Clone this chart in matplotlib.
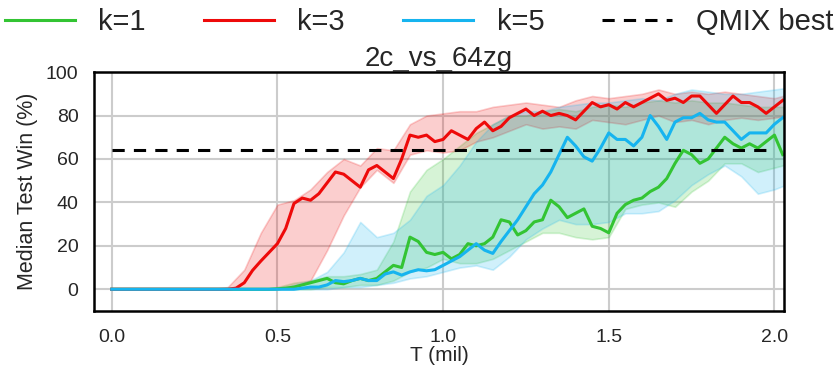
import numpy as np
import matplotlib
matplotlib.use('Agg')
import matplotlib.pyplot as plt

# median curves, sampled every 0.025 mil
t_med = np.arange(82) * 0.025
k1_med = [0] * 20 + [0.2, 0.5, 1, 2, 3, 4, 5, 3, 2.5, 4, 5, 4, 5, 8, 11, 10,
                     24, 22, 17, 16, 17, 14, 16, 21, 20, 21, 24, 32, 31, 25, 27, 31,
                     32, 41, 38, 33, 35, 37, 29, 28, 26, 35, 39, 41, 42, 45, 47, 51,
                     58, 64, 62, 58, 60, 65, 70, 67, 65, 67, 65, 68, 71, 62]
k3_med = [0] * 15 + [0.5, 3, 8.7, 13, 17, 21, 28, 39.5, 42, 41, 44, 49, 54, 53, 50,
                     47, 55, 57, 54, 51, 60, 71, 70, 71, 68, 69, 73, 71, 69, 74, 77,
                     73, 75, 79, 81, 83, 80, 82, 80, 81, 80, 78, 82, 86, 84, 85, 83,
                     86, 84, 86, 88, 90, 87, 88, 86, 89, 89, 85, 81, 85, 89, 86, 86,
                     84, 81, 84, 87]
k5_med = [0] * 23 + [0.5, 1, 1, 2, 4, 3.5, 4, 5, 4, 4, 7, 8, 6.5, 8, 9, 8.5, 9,
                     11, 13, 15, 18, 21, 18, 16.5, 22, 27, 32, 38, 44, 48, 54, 62, 70,
                     66, 61, 59, 65, 72, 69, 69, 66, 70, 80, 75, 69, 77, 79, 79, 81,
                     78, 77, 77, 73, 69, 72, 72, 72, 76, 79]

# spread bands, sampled every 0.05 mil
t_band = np.arange(42) * 0.05
k1_lo = [0] * 13 + [1, 1, 2, 2, 4, 8, 10, 14, 12, 12, 14, 18, 22, 26, 26, 24, 23,
                    24, 37, 39, 40, 38, 45, 50, 58, 58, 54, 56, 58]
k1_hi = [0] * 10 + [1, 3, 4, 6, 6, 7, 9, 22, 45, 55, 60, 66, 72, 76, 80, 80, 82,
                    83, 82, 84, 85, 84, 86, 87, 86, 87, 86, 86, 85, 84, 84, 84]
k3_lo = [0] * 11 + [1, 4, 18, 34, 47, 55, 49, 62, 64, 63, 64, 68, 70, 73, 76, 74,
                    75, 74, 78, 77, 76, 78, 80, 77, 78, 76, 78, 79, 78, 79, 80]
k3_hi = [0] * 7 + [1, 9, 26, 39, 41, 46, 54, 60, 57, 65, 64, 76, 80, 81, 82, 82,
                   84, 85, 86, 85, 84, 87, 89, 88, 89, 90, 92, 90, 91, 90, 91, 90,
                   89, 88, 90]
k5_lo = [0] * 14 + [1, 1, 2, 3, 5, 6, 8, 10, 11, 9, 15, 23, 28, 32, 30, 30, 31, 35,
                    35, 36, 41, 48, 53, 57, 52, 44, 46, 49]
k5_hi = [0] * 11 + [2, 4, 8, 17, 31, 24, 26, 32, 43, 48, 57, 68, 76, 80, 82, 82,
                    84, 85, 86, 86, 87, 88, 87, 90, 92, 91, 90, 90, 91, 92, 93]

qmix_best = 64

plt.rcParams['font.family'] = ['Liberation Sans', 'DejaVu Sans']
plt.rcParams['text.color'] = '#262626'
plt.rcParams['xtick.color'] = '#262626'
plt.rcParams['ytick.color'] = '#262626'
plt.rcParams['axes.labelcolor'] = '#262626'

fig, ax = plt.subplots(figsize=(8.38, 3.68), dpi=100)
fig.subplots_adjust(left=0.112, right=0.936, top=0.804, bottom=0.155)

series = [
    ('k=1', '#33c433', k1_med, k1_lo, k1_hi),
    ('k=3', '#ee0a0a', k3_med, k3_lo, k3_hi),
    ('k=5', '#16b4ef', k5_med, k5_lo, k5_hi),
]

for name, col, med, lo, hi in series:
    ax.fill_between(t_band, lo, hi, color=col, alpha=0.2, lw=1.2)
for name, col, med, lo, hi in series:
    ax.plot(t_med, med, color=col, lw=2.2, label=name)

ax.plot([0, 2.0], [qmix_best, qmix_best], color='black', ls='--', lw=2.2,
        dashes=(4, 3), label='QMIX best')

ax.set_xlim(-0.054, 2.03)
ax.set_ylim(-10, 100)
ax.set_xticks([0, 0.5, 1.0, 1.5, 2.0])
ax.set_yticks([0, 20, 40, 60, 80, 100])
ax.tick_params(length=0, labelsize=14, pad=11)
ax.tick_params(axis='x', pad=13)
ax.grid(True, color='#cccccc', lw=1.5)
ax.set_axisbelow(True)
for sp in ax.spines.values():
    sp.set_color('black')
    sp.set_linewidth(1.8)

ax.set_title('2c_vs_64zg', fontsize=20, pad=3)
ax.set_xlabel('T (mil)', fontsize=15, labelpad=0)
ax.set_ylabel('Median Test Win (%)', fontsize=15.5, labelpad=6)

fig.legend(loc='center', bbox_to_anchor=(0.5, 0.94), ncol=4, frameon=False,
           fontsize=21, handlelength=2.4, handletextpad=0.8, columnspacing=2.0)

plt.savefig('out.png', dpi=100)
